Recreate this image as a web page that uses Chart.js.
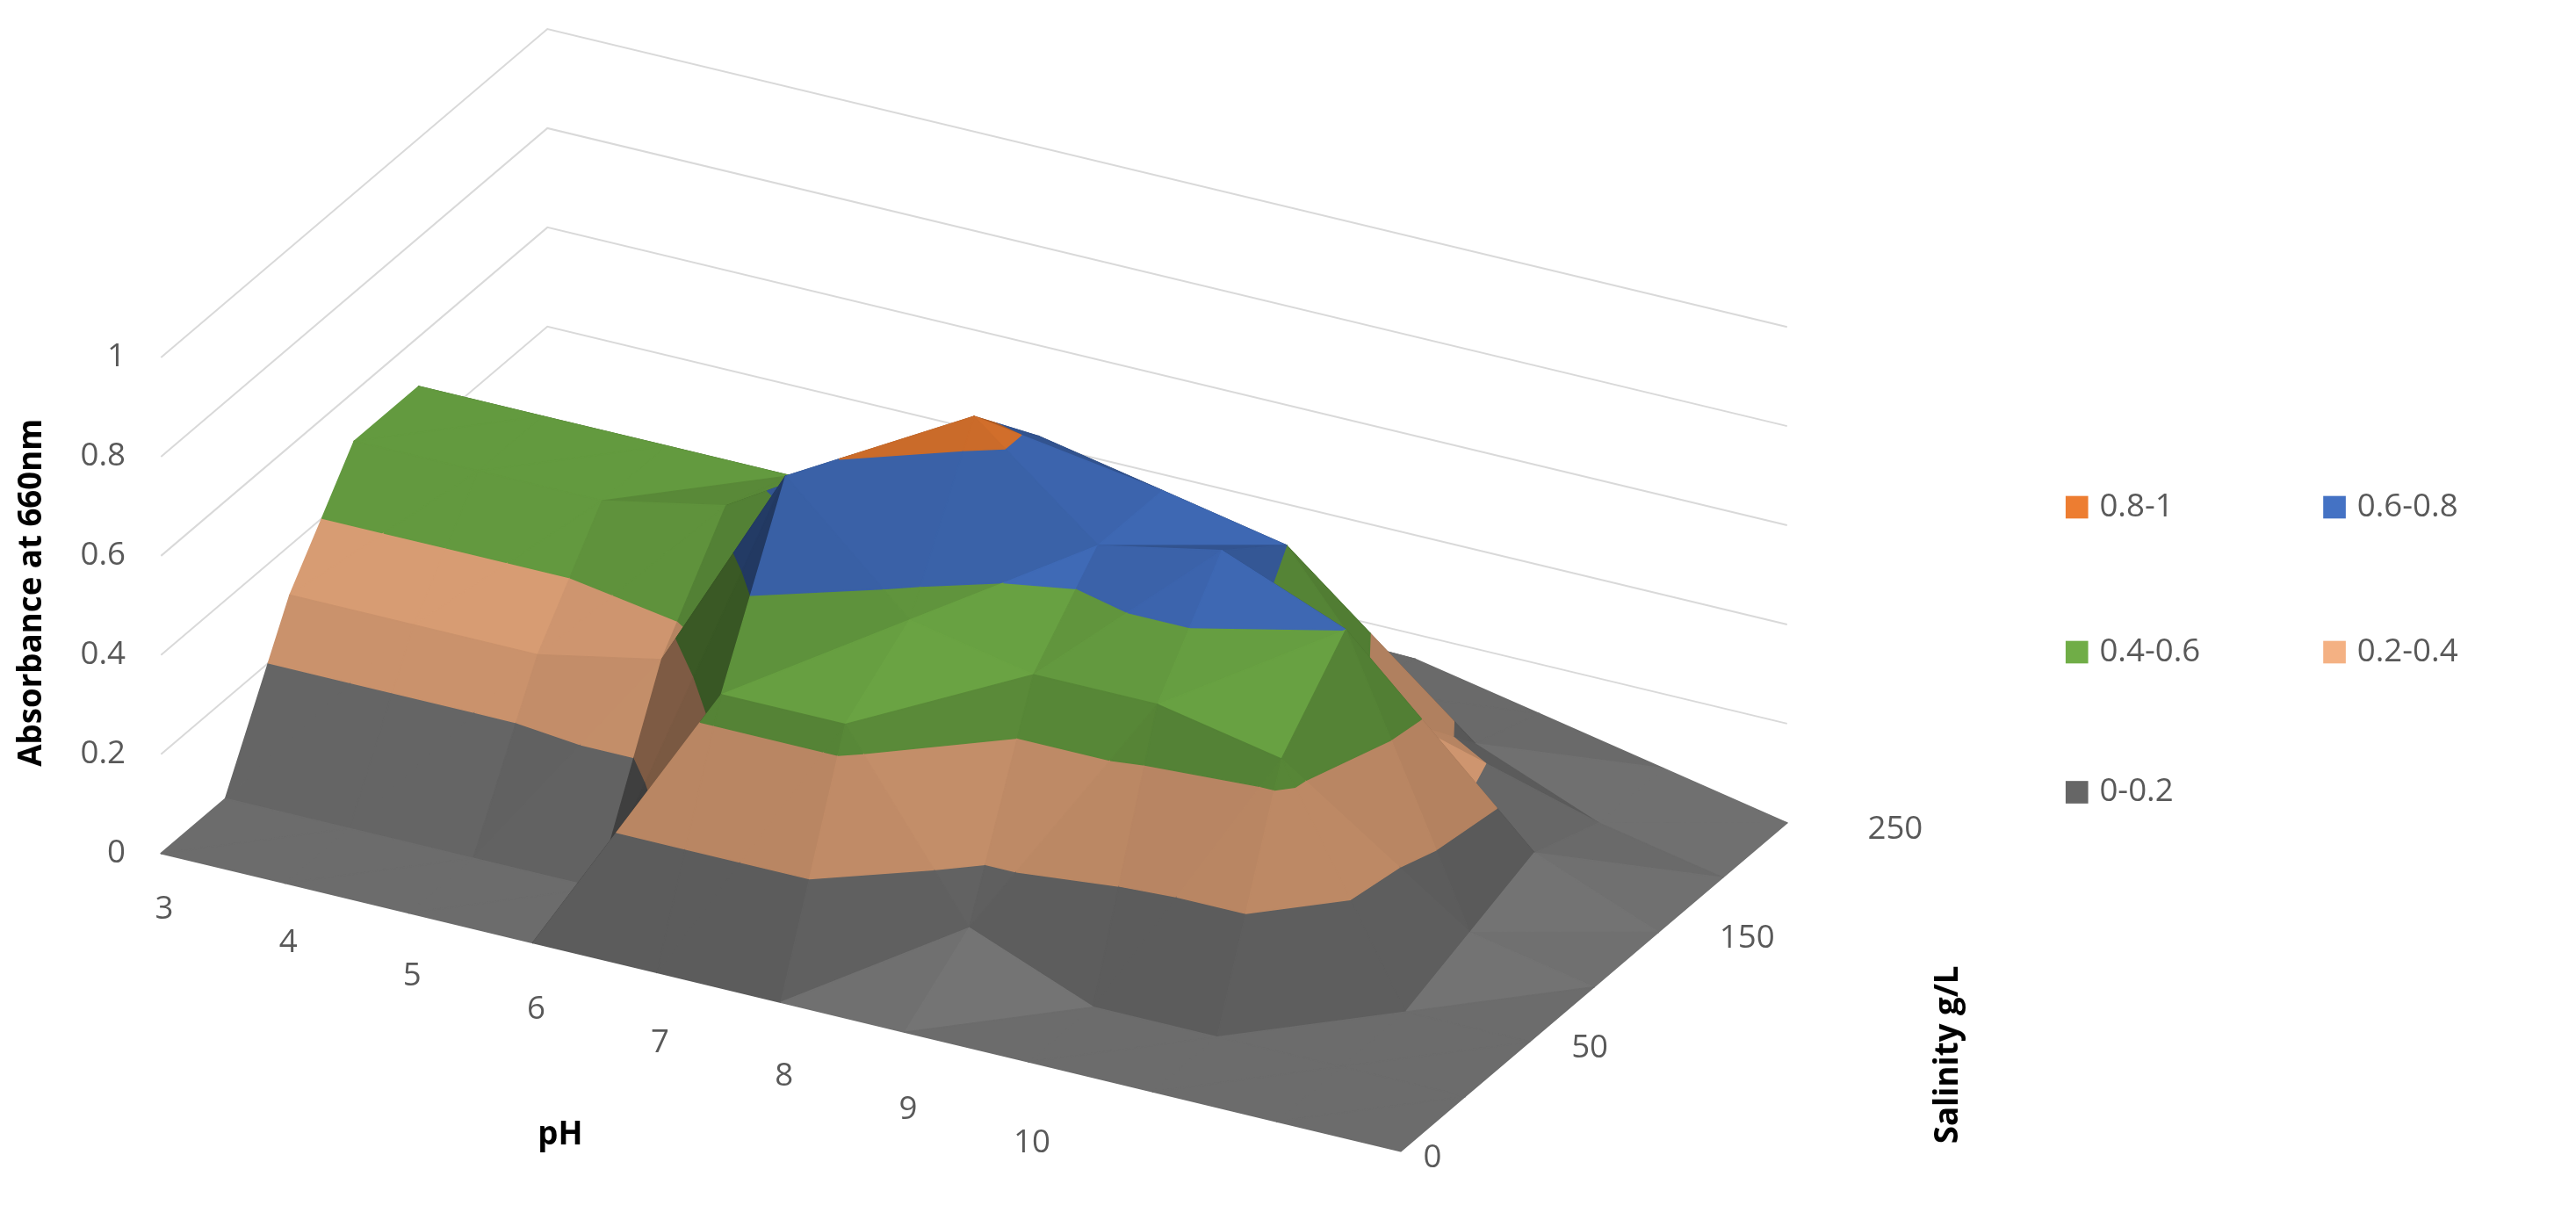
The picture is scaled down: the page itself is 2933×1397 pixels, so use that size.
<!DOCTYPE html>
<html>
<head>
<meta charset="utf-8">
<script src="https://cdn.jsdelivr.net/npm/chart.js@4/dist/chart.umd.min.js"></script>
<style>
  html, body { margin: 0; padding: 0; background: #fff; }
  #wrap { width: 2933px; height: 1397px; position: relative; }
</style>
</head>
<body>
<div id="wrap"><canvas id="surfaceChart"></canvas></div>
<script>
// categories
const phValues = [3, 4, 5, 6, 7, 8, 9, 10, 11, 12, 13]
const phLabels = ["3", "4", "5", "6", "7", "8", "9", "10", "", "", ""]
const salinityValues = [0, 25, 50, 100, 150, 200, 250]
const salinityLabels = ["0", "", "50", "", "150", "", "250"]
const absorbanceTicks = [0, 0.2, 0.4, 0.6, 0.8, 1]

// absorbance, one row per salinity, one column per pH (estimated)
const absSal0   = [0.00, 0.00, 0.00, 0.00, 0.00, 0.00, 0.00, 0.00, 0.00, 0.00, 0.00]
const absSal25  = [0.00, 0.00, 0.00, 0.00, 0.45, 0.45, 0.10, 0.00, 0.00, 0.00, 0.00]
const absSal50  = [0.30, 0.30, 0.30, 0.35, 0.78, 0.55, 0.50, 0.50, 0.45, 0.00, 0.00]
const absSal100 = [0.50, 0.50, 0.50, 0.55, 0.70, 0.85, 0.65, 0.70, 0.60, 0.05, 0.00]
const absSal150 = [0.50, 0.50, 0.50, 0.50, 0.55, 0.70, 0.65, 0.60, 0.30, 0.10, 0.00]
const absSal200 = [0.15, 0.15, 0.15, 0.15, 0.20, 0.25, 0.30, 0.20, 0.15, 0.05, 0.00]
const absSal250 = [0.10, 0.10, 0.10, 0.10, 0.10, 0.15, 0.15, 0.15, 0.10, 0.05, 0.00]
const surfaceRows = [absSal0, absSal25, absSal50, absSal100, absSal150, absSal200, absSal250]

// colour bands
const bandLabels = ["0-0.2", "0.2-0.4", "0.4-0.6", "0.6-0.8", "0.8-1"]
const bandLow = [0, 0.2, 0.4, 0.6, 0.8]
const bandHigh = [0.2, 0.4, 0.6, 0.8, 1.0]
const bandColors = ["#7a7a7a", "#f4b183", "#70ad47", "#4472c4", "#ed7d31"]

// layout in a 1600 x 762 reference space
const W = 1600, H = 762
const origin = { x: 100, y: 530 }
const stepPh = { x: 77, y: 18.5 }
const stepSal = { x: 40, y: -34 }
const zHeight = 308

function project(i, j, z) {
    return {
        x: origin.x + i * stepPh.x + j * stepSal.x,
        y: origin.y + i * stepPh.y + j * stepSal.y - z * zHeight
    }
}

// wall grid lines as datasets
const nI = phValues.length - 1, nJ = salinityValues.length - 1
const gridSets = absorbanceTicks.map(z => {
    const a = project(0, 0, z), b = project(0, nJ, z), c = project(nI, nJ, z)
    return { data: [a, b, c], showLine: true, borderColor: "#d9d9d9", borderWidth: 2, pointRadius: 0, fill: false }
})

function shade(hex, f) {
    const n = parseInt(hex.slice(1), 16)
    const r = Math.round(((n >> 16) & 255) * f), g = Math.round(((n >> 8) & 255) * f), b = Math.round((n & 255) * f)
    return "rgb(" + r + "," + g + "," + b + ")"
}

function clip(poly, level, keepAbove) {
    const out = []
    for (let k = 0; k < poly.length; k++) {
        const p = poly[k], q = poly[(k + 1) % poly.length]
        const pIn = keepAbove ? p.z >= level : p.z <= level
        const qIn = keepAbove ? q.z >= level : q.z <= level
        if (pIn) out.push(p)
        if (pIn !== qIn) {
            const t = (level - p.z) / (q.z - p.z)
            out.push({ i: p.i + t * (q.i - p.i), j: p.j + t * (q.j - p.j), z: level })
        }
    }
    return out
}

const light = (() => { const v = [0.3, -0.3, 0.9]; const l = Math.hypot(...v); return v.map(c => c / l) })()

function brightness(a, b, c) {
    const k = 4
    const u = [b.i - a.i, b.j - a.j, (b.z - a.z) * k]
    const v = [c.i - a.i, c.j - a.j, (c.z - a.z) * k]
    let n = [u[1] * v[2] - u[2] * v[1], u[2] * v[0] - u[0] * v[2], u[0] * v[1] - u[1] * v[0]]
    if (n[2] < 0) n = n.map(x => -x)
    const l = Math.hypot(...n)
    const d = Math.max(0, (n[0] * light[0] + n[1] * light[1] + n[2] * light[2]) / l)
    return 0.3 + 0.65 * d
}

const surfacePlugin = {
    id: "surface",
    afterDatasetsDraw(chart) {
        const ctx = chart.ctx, xs = chart.scales.x, ys = chart.scales.y
        const S = chart.width / W
        const px = p => ({ x: xs.getPixelForValue(p.x), y: ys.getPixelForValue(p.y) })

        // cells back to front
        const cells = []
        for (let j = 0; j < nJ; j++) for (let i = 0; i < nI; i++) {
            cells.push({ i, j, d: project(i + 0.5, j + 0.5, 0).y })
        }
        cells.sort((a, b) => a.d - b.d)
        ctx.save()
        ctx.lineJoin = "round"
        cells.forEach(c => {
            const v = (i, j) => ({ i, j, z: surfaceRows[j][i] })
            const p00 = v(c.i, c.j), p10 = v(c.i + 1, c.j), p01 = v(c.i, c.j + 1), p11 = v(c.i + 1, c.j + 1)
            const tris = [[p01, p11, p00], [p11, p10, p00]]
            tris.forEach(tri => {
                const f = brightness(tri[0], tri[1], tri[2])
                bandLow.forEach((lo, b) => {
                    let poly = clip(tri, lo, true)
                    if (poly.length < 3) return
                    poly = clip(poly, b === bandLow.length - 1 ? 10 : bandHigh[b], false)
                    if (poly.length < 3) return
                    const col = shade(bandColors[b], f)
                    ctx.beginPath()
                    poly.forEach((p, k) => {
                        const q = px(project(p.i, p.j, p.z))
                        k ? ctx.lineTo(q.x, q.y) : ctx.moveTo(q.x, q.y)
                    })
                    ctx.closePath()
                    ctx.fillStyle = col
                    ctx.strokeStyle = col
                    ctx.lineWidth = 1.5
                    ctx.fill()
                    ctx.stroke()
                })
            })
        })

        // tick labels
        ctx.fillStyle = "#595959"
        ctx.font = (20 * S) + "px 'Open Sans', sans-serif"
        ctx.textBaseline = "middle"
        ctx.textAlign = "right"
        absorbanceTicks.forEach(z => {
            const q = px(project(0, 0, z))
            ctx.fillText(String(z), q.x - 22 * S, q.y)
        })
        ctx.textAlign = "center"
        phLabels.forEach((t, i) => {
            const q = px(project(i, 0, 0))
            ctx.fillText(t, q.x + 2 * S, q.y + (35 + 2.2 * i) * S)
        })
        ctx.textAlign = "left"
        salinityLabels.forEach((t, j) => {
            const q = px(project(nI, j, 0))
            ctx.fillText(t, q.x + (14 + 6 * j) * S, q.y + 4 * S)
        })

        // axis titles
        ctx.fillStyle = "#000"
        ctx.font = "bold " + (20 * S) + "px 'Open Sans', sans-serif"
        ctx.textAlign = "center"
        ctx.fillText("pH", px({ x: 348, y: 705 }).x, px({ x: 348, y: 705 }).y)
        ctx.save()
        let a = px({ x: 20, y: 368 })
        ctx.translate(a.x, a.y); ctx.rotate(-Math.PI / 2)
        ctx.fillText("Absorbance at 660nm", 0, 0)
        ctx.restore()
        ctx.save()
        a = px({ x: 1210, y: 655 })
        ctx.translate(a.x, a.y); ctx.rotate(-Math.PI / 2)
        ctx.fillText("Salinity g/L", 0, 0)
        ctx.restore()

        // legend
        const legendPos = [
            { b: 4, x: 1290, y: 315 }, { b: 3, x: 1450, y: 315 },
            { b: 2, x: 1290, y: 405 }, { b: 1, x: 1450, y: 405 },
            { b: 0, x: 1290, y: 492 }
        ]
        ctx.font = (20 * S) + "px 'Open Sans', sans-serif"
        ctx.textAlign = "left"
        legendPos.forEach(l => {
            const q = px({ x: l.x, y: l.y })
            ctx.fillStyle = l.b === 0 ? "#666666" : bandColors[l.b]
            ctx.fillRect(q.x - 7 * S, q.y - 7 * S, 14 * S, 14 * S)
            ctx.fillStyle = "#595959"
            ctx.fillText(bandLabels[l.b], q.x + 14 * S, q.y)
        })
        ctx.restore()
    }
}

new Chart(document.getElementById("surfaceChart").getContext("2d"), {
    type: "scatter",
    data: { datasets: gridSets },
    options: {
        responsive: true,
        maintainAspectRatio: false,
        animation: false,
        layout: { padding: 0 },
        scales: {
            x: { type: "linear", min: 0, max: W, display: false },
            y: { type: "linear", min: 0, max: H, reverse: true, display: false }
        },
        plugins: { legend: { display: false }, tooltip: { enabled: false } }
    },
    plugins: [surfacePlugin]
})
</script>
</body>
</html>
